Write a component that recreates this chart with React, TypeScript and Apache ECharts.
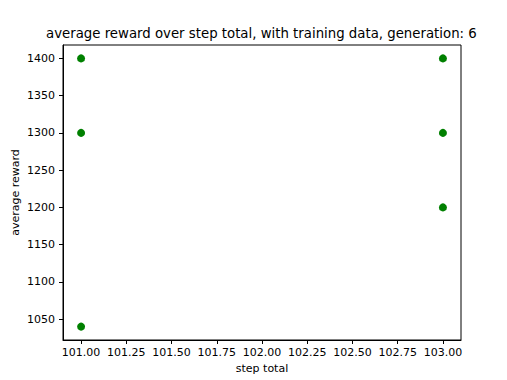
import React, { useEffect, useRef } from "react";
import * as echarts from "echarts";

const stepTotal = [101, 101, 101, 103, 103, 103];
const averageReward = [1400, 1300, 1040, 1400, 1300, 1200];
const xTicks = [101, 101.25, 101.5, 101.75, 102, 102.25, 102.5, 102.75, 103];
const yTicks = [1050, 1100, 1150, 1200, 1250, 1300, 1350, 1400];
const titleText = "average reward over step total, with training data, generation: 6";

export default function App() {
  const ref = useRef<HTMLDivElement>(null);
  useEffect(() => {
    if (!ref.current) return;
    const chart = echarts.init(ref.current, null, { renderer: "svg" });
    const font = "DejaVu Sans";
    chart.setOption({
      animation: false,
      backgroundColor: "#ffffff",
      textStyle: { fontFamily: font },
      title: {
        text: titleText,
        left: 46,
        top: 27,
        padding: 0,
        textStyle: { fontFamily: font, fontSize: 13.3, fontWeight: "normal", color: "#000" },
      },
      grid: {
        left: 63,
        right: 46,
        top: 45,
        bottom: 40,
        containLabel: false,
        outerBoundsMode: "none",
        show: true,
        borderColor: "#000",
        borderWidth: 1,
        backgroundColor: "transparent",
      },
      xAxis: {
        type: "value",
        min: 100.9,
        max: 103.1,
        name: "step total",
        nameLocation: "middle",
        nameGap: 23,
        nameMoveOverlap: false,
        nameTextStyle: { fontFamily: font, fontSize: 11, color: "#000" },
        splitLine: { show: false },
        axisLine: { show: true, lineStyle: { color: "#000", width: 1 } },
        axisTick: { show: true, length: 4, lineStyle: { color: "#000" }, customValues: xTicks },
        axisLabel: {
          margin: 7,
          fontFamily: font,
          fontSize: 11,
          color: "#000",
          customValues: xTicks,
          formatter: (v: number) => v.toFixed(2),
        },
      },
      yAxis: {
        type: "value",
        min: 1022,
        max: 1418,
        name: "average reward",
        nameLocation: "middle",
        nameRotate: 90,
        nameGap: 42,
        nameMoveOverlap: false,
        nameTextStyle: { fontFamily: font, fontSize: 11, color: "#000" },
        splitLine: { show: false },
        axisLine: { show: true, lineStyle: { color: "#000", width: 1 } },
        axisTick: { show: true, length: 4, lineStyle: { color: "#000" }, customValues: yTicks },
        axisLabel: {
          margin: 8,
          fontFamily: font,
          fontSize: 11,
          color: "#000",
          customValues: yTicks,
          formatter: (v: number) => String(v),
        },
      },
      series: [
        {
          type: "scatter",
          data: stepTotal.map((x, i) => [x, averageReward[i]]),
          symbol: "circle",
          symbolSize: 8,
          itemStyle: { color: "#008000", opacity: 1 },
        },
      ],
    });
    return () => chart.dispose();
  }, []);
  return (
    <div
      ref={ref}
      style={{ position: "fixed", left: 0, top: 0, width: 507, height: 380 }}
    />
  );
}
